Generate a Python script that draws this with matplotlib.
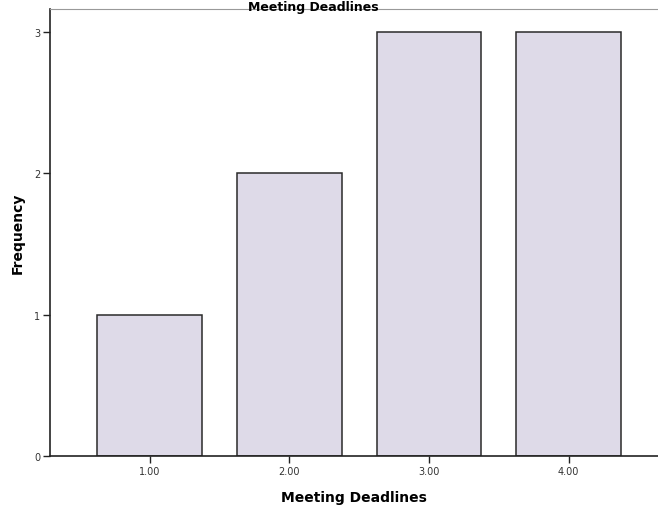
import matplotlib.pyplot as plt

# valeurs
categories = [1.0, 2.0, 3.0, 4.0]
tick_labels = ['1.00', '2.00', '3.00', '4.00']
frequency = [1, 2, 3, 3]

fig = plt.figure(figsize=(6.58, 5.06), dpi=100)
ax = fig.add_axes([50/658, 49/506, 1 - 50/658, (457 - 10)/506])

ax.bar(categories, frequency, width=0.75, color='#dedae8', edgecolor='#2a2a2a', linewidth=1.1)

ax.set_xlim(0.286, 4.64)
ax.set_ylim(0, 3.16)
ax.set_xticks(categories)
ax.set_xticklabels(tick_labels, fontsize=7, color='#333333')
ax.set_yticks([0, 1, 2, 3])
ax.set_yticklabels(['0', '1', '2', '3'], fontsize=7, color='#333333')
ax.tick_params(axis='both', direction='out', length=5, width=1, color='#222222', pad=2)

ax.spines['right'].set_visible(False)
ax.spines['top'].set_color('#999999')
ax.spines['left'].set_color('#222222')
ax.spines['bottom'].set_color('#222222')
ax.spines['left'].set_linewidth(1.2)
ax.spines['bottom'].set_linewidth(1.2)

ax.set_xlabel('Meeting Deadlines', fontsize=10, fontweight='bold', labelpad=10)
ax.set_ylabel('Frequency', fontsize=10, fontweight='bold', labelpad=7)

# titre tout en haut de l'image
fig.text(313/658, 0.999, 'Meeting Deadlines', ha='center', va='top', fontsize=9, fontweight='bold')

fig.savefig('out.png', dpi=100)
